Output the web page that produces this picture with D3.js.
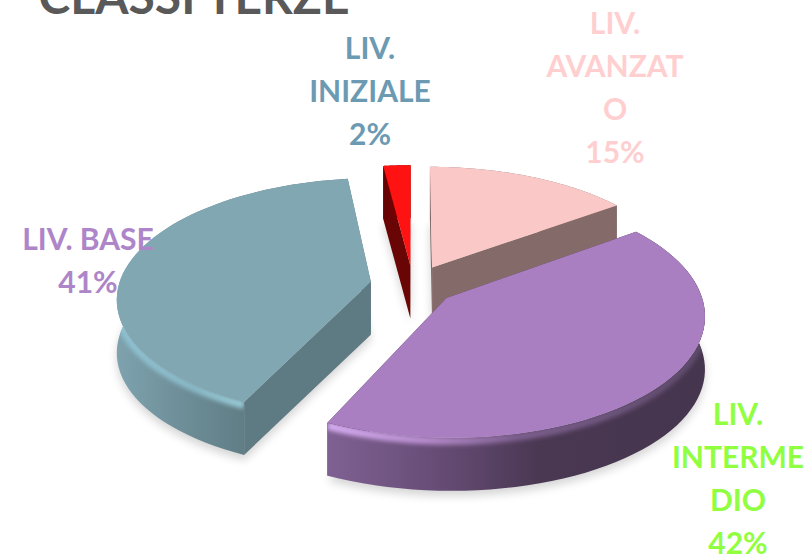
<!DOCTYPE html>
<html><head><meta charset="utf-8">
<script src="https://cdn.jsdelivr.net/npm/d3@7"></script>
<style>html,body{margin:0;padding:0;background:#fff;overflow:hidden}svg{display:block}text{font-family:Lato,"Open Sans",sans-serif;font-weight:700;text-anchor:middle}</style>
</head><body><div id="c"></div>
<script>
const titleText = "CLASSI TERZE";
const categories = ["LIV. AVANZATO", "LIV. INTERMEDIO", "LIV. BASE", "LIV. INIZIALE"];
const values = [15, 42, 41, 2];
const labelLines = [["LIV.", "AVANZAT", "O", "15%"], ["LIV.", "INTERME", "DIO", "42%"], ["LIV. BASE", "41%"], ["LIV.", "INIZIALE", "2%"]];
const topColors = ["#fbc8c8", "#aa7fc1", "#80a7b2", "#ff1212"];
const labelColors = ["#ffcfcf", "#8fff3f", "#ad85c8", "#6b9ab2"];

const W = 810, H = 557;
const cam = {x0: 413, y0: 285, A: 252, B: 118, k: 0.13, explode: 0.17, depth: 53};
const labelPos = [{x: 615, y: 34}, {x: 738, y: 425}, {x: 88, y: 250}, {x: 370, y: 59}];
const lineGap = 43;

const xS = d3.scaleLinear().domain([-1, 1]).range([cam.x0 - cam.A, cam.x0 + cam.A]);
const yS = d3.scaleLinear().domain([-1, 1]).range([cam.y0 + cam.B, cam.y0 - cam.B]);
const project = (X, Y) => { const w = 1 + cam.k * Y; return [xS(X / w), yS(Y / w)]; };

const svg = d3.select("#c").append("svg").attr("width", W).attr("height", H);
const defs = svg.append("defs");
defs.append("filter").attr("id", "blurS").attr("x", "-20%").attr("y", "-20%").attr("width", "140%").attr("height", "140%")
  .append("feGaussianBlur").attr("stdDeviation", 5);
defs.append("filter").attr("id", "blurB").attr("x", "-10%").attr("y", "-10%").attr("width", "120%").attr("height", "120%")
  .append("feGaussianBlur").attr("stdDeviation", 2);

function grad(id, x1, x2, stops) {
  const g = defs.append("linearGradient").attr("id", id).attr("gradientUnits", "userSpaceOnUse")
    .attr("x1", x1).attr("x2", x2).attr("y1", 0).attr("y2", 0);
  stops.forEach(s => g.append("stop").attr("offset", s[0]).attr("stop-color", s[1]));
  return `url(#${id})`;
}
const wallFill = [
  "#856a6a",
  grad("wi", 331, 707, [[0, "#7f6092"], [0.3, "#654b74"], [0.55, "#4a3853"], [1, "#46354e"]]),
  grad("wb", 115, 250, [[0, "#7ea3af"], [0.55, "#6c8c96"], [1, "#5f7c84"]]),
  grad("wr", 380, 412, [[0, "#5e0404"], [1, "#8a0000"]])
];
const cutFill = ["#856a6a", "#46354e", "#5e7a83", "#6a0505"];
const bevel = [
  null,
  grad("bi", 331, 707, [[0, "#d4abf0"], [0.25, "#b68ccc"], [0.5, "#7d5f8e"], [1, "#5d4a6a"]]),
  grad("bb", 115, 250, [[0, "#8fc2d2"], [0.6, "#8ab8c6"], [1, "#9accd8"]]),
  null
];

const pie = d3.pie().sort(null).value(d => d);
const arcs = pie(values);
const line = d3.line();

const slices = arcs.map((a, i) => {
  const mid = (a.startAngle + a.endAngle) / 2;
  const ox = Math.sin(mid) * cam.explode, oy = Math.cos(mid) * cam.explode;
  const pt = t => project(ox + Math.sin(t), oy + Math.cos(t));
  const apex = project(ox, oy);
  const ts = d3.range(0, 61).map(j => a.startAngle + (a.endAngle - a.startAngle) * j / 60);
  const rim = ts.map(pt);
  return {i, a, apex, rim, top: [apex, ...rim]};
});
const drop = (pts, d) => pts.map(p => [p[0], p[1] + d]);
const closed = pts => line(pts) + "Z";

// soft ground shadows
const shadow = svg.append("g").attr("filter", "url(#blurS)").attr("fill", "#000").attr("opacity", 0.17);
slices.forEach(s => shadow.append("path").attr("d", closed(drop(s.top, cam.depth + 5))));

// painter's order: far slices first
[3, 0, 2, 1].forEach(n => {
  const s = slices[n], g = svg.append("g");
  const wall = [...s.rim, ...drop(s.rim, cam.depth).reverse()];
  const first = [s.apex, s.rim[0], ...drop([s.rim[0], s.apex], cam.depth)];
  const last = [s.apex, s.rim[60], ...drop([s.rim[60], s.apex], cam.depth)];
  g.append("path").attr("d", closed(first)).attr("fill", cutFill[n]);
  g.append("path").attr("d", closed(last)).attr("fill", n === 3 ? wallFill[3] : cutFill[n]);
  g.append("path").attr("d", closed(wall)).attr("fill", wallFill[n]);
  if (bevel[n]) {
    defs.append("clipPath").attr("id", "cw" + n).append("path").attr("d", closed(wall));
    const band = n === 2 ? s.rim.slice(0, 32) : s.rim;
    g.append("g").attr("clip-path", `url(#cw${n})`).append("path").attr("d", line(drop(band, 3))).attr("fill", "none")
      .attr("stroke", bevel[n]).attr("stroke-width", 8).attr("filter", "url(#blurB)");
  }
  g.append("path").attr("d", closed(s.top)).attr("fill", topColors[n]);
});

// title (cropped by the top edge, as in the source)
svg.append("text").attr("x", 194).attr("y", 14).attr("fill", "#595959")
  .attr("font-size", 48).text(titleText);

// data labels
labelLines.forEach((ls, i) => {
  ls.forEach((t, j) => svg.append("text").attr("x", labelPos[i].x).attr("y", labelPos[i].y + j * lineGap)
    .attr("fill", labelColors[i]).attr("font-size", 30).text(t));
});
</script></body></html>
